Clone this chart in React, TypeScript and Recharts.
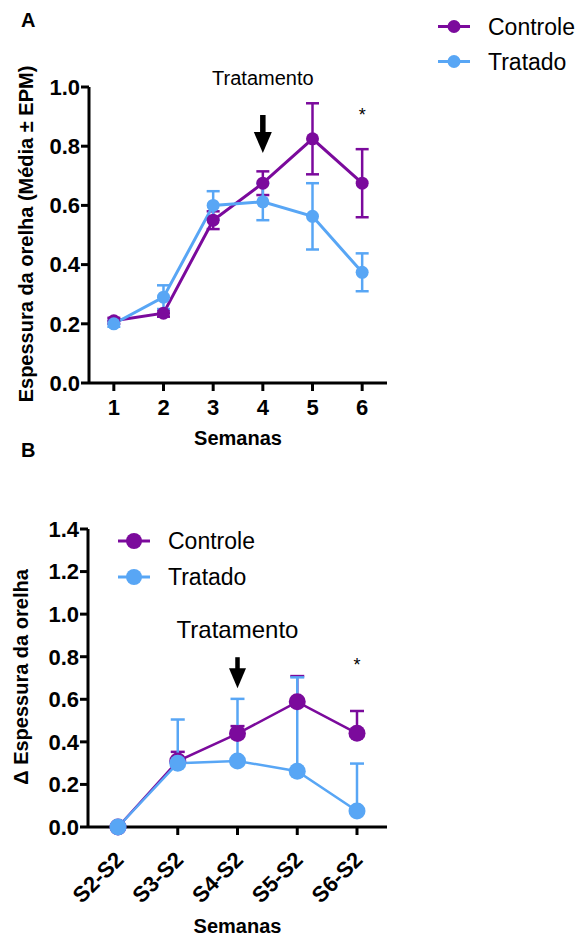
import React from "react";
import {
  LineChart,
  Line,
  XAxis,
  YAxis,
  ErrorBar,
  ReferenceDot,
  Legend,
} from "recharts";

const FONT = "'Liberation Sans', Arial, sans-serif";
const PURPLE = "#7B0A9C";
const BLUE = "#58A6F5";

// Painel A
const semanas = [1, 2, 3, 4, 5, 6];
const controleA = [0.21, 0.236, 0.55, 0.675, 0.825, 0.675];
const controleAErr = [0.01, 0.012, 0.03, 0.04, 0.12, 0.115];
const tratadoA = [0.2, 0.29, 0.6, 0.612, 0.563, 0.374];
const tratadoAErr = [0.01, 0.04, 0.048, 0.062, 0.112, 0.064];
const yTicksA = [0, 0.2, 0.4, 0.6, 0.8, 1.0];

// Painel B
const diferencas = ["S2-S2", "S3-S2", "S4-S2", "S5-S2", "S6-S2"];
const controleB = [0, 0.31, 0.439, 0.588, 0.44];
const controleBErr = [0, 0.043, 0.035, 0.121, 0.105];
const tratadoB = [0, 0.3, 0.31, 0.262, 0.075];
const tratadoBErr = [0, 0.205, 0.292, 0.441, 0.223];
const yTicksB = [0, 0.2, 0.4, 0.6, 0.8, 1.0, 1.2, 1.4];

const dataA = semanas.map((s, i) => ({
  semana: s,
  controle: controleA[i],
  controleErr: controleAErr[i],
  tratado: tratadoA[i],
  tratadoErr: tratadoAErr[i],
}));

const dataB = diferencas.map((d, i) => ({
  label: d,
  controle: controleB[i],
  controleErr: [0, controleBErr[i]],
  tratado: tratadoB[i],
  tratadoErr: [0, tratadoBErr[i]],
}));

const fmt = (v: number) => v.toFixed(1);

const tickStyle = { fill: "#000", fontSize: 22, fontWeight: 700, fontFamily: FONT };
const titleStyle = { fontSize: 20, fontWeight: 700, fontFamily: FONT, fill: "#000" };

function makeArrow(len: number, shaftW: number, headW: number, headH: number) {
  // cy = ponta da seta
  return (props: any) => {
    const { cx, cy } = props;
    return (
      <g>
        <rect x={cx - shaftW / 2} y={cy - len} width={shaftW} height={len - headH + 2} fill="#000" />
        <path
          d={`M${cx - headW / 2},${cy - headH} L${cx + headW / 2},${cy - headH} L${cx},${cy} Z`}
          fill="#000"
        />
      </g>
    );
  };
}

function textShape(text: string, size: number) {
  return (props: any) => (
    <text x={props.cx} y={props.cy} textAnchor="middle" fontSize={size} fontFamily={FONT} fill="#000">
      {text}
    </text>
  );
}

function LegendContent({ size, gap, dotR }: { size: number; gap: number; dotR: number }) {
  const items = [
    { name: "Controle", color: PURPLE },
    { name: "Tratado", color: BLUE },
  ];
  return (
    <svg width={170} height={gap * 2}>
      {items.map((it, i) => {
        const y = gap / 2 + i * gap;
        return (
          <g key={it.name}>
            <line x1={0} x2={32} y1={y} y2={y} stroke={it.color} strokeWidth={3} />
            <circle cx={16} cy={y} r={dotR} fill={it.color} />
            <text x={50} y={y + size * 0.36} fontSize={size} fontFamily={FONT} fill="#000">
              {it.name}
            </text>
          </g>
        );
      })}
    </svg>
  );
}

function XTickB(props: any) {
  const { x, y, payload } = props;
  const ax = x + 7;
  const ay = y + 24;
  return (
    <text
      x={ax}
      y={ay}
      transform={`rotate(-45 ${ax} ${ay})`}
      textAnchor="end"
      fontSize={22}
      fontWeight={700}
      fontFamily={FONT}
      fill="#000"
    >
      {payload.value}
    </text>
  );
}

export default function App() {
  return (
    <div
      style={{
        position: "absolute",
        left: 0,
        top: 0,
        width: 583,
        height: 936,
        background: "#fff",
        fontFamily: FONT,
      }}
    >
      <div style={{ position: "absolute", left: 21, top: 10, fontSize: 20, fontWeight: 700, lineHeight: "20px" }}>A</div>
      <div style={{ position: "absolute", left: 21, top: 440, fontSize: 20, fontWeight: 700, lineHeight: "20px" }}>B</div>

      <div style={{ position: "absolute", left: 0, top: 0 }}>
        <LineChart
          width={583}
          height={450}
          data={dataA}
          margin={{ top: 87, right: 196, bottom: 0, left: 39 }}
        >
          <XAxis
            dataKey="semana"
            type="number"
            domain={[0.5, 6.5]}
            ticks={semanas}
            height={67}
            stroke="#000"
            strokeWidth={3}
            tickSize={8}
            tickMargin={8}
            tick={tickStyle}
            label={{ value: "Semanas", position: "insideBottom", offset: 5, style: titleStyle }}
          />
          <YAxis
            domain={[0, 1]}
            ticks={yTicksA}
            tickFormatter={fmt}
            width={50}
            stroke="#000"
            strokeWidth={3}
            tickSize={8}
            tickMargin={1}
            tick={tickStyle}
          />
          <Legend
            layout="horizontal"
            align="center"
            verticalAlign="middle"
            wrapperStyle={{ position: "absolute", left: 438, top: 9, width: 170 }}
            content={() => <LegendContent size={23} gap={35} dotR={6.5} />}
          />
          <Line
            dataKey="controle"
            name="Controle"
            stroke={PURPLE}
            strokeWidth={3}
            dot={{ r: 6.5, fill: PURPLE, stroke: PURPLE, strokeWidth: 0 }}
            isAnimationActive={false}
          >
            <ErrorBar dataKey="controleErr" direction="y" width={6.5} stroke={PURPLE} strokeWidth={2.5} isAnimationActive={false} />
          </Line>
          <Line
            dataKey="tratado"
            name="Tratado"
            stroke={BLUE}
            strokeWidth={3}
            dot={{ r: 6.5, fill: BLUE, stroke: BLUE, strokeWidth: 0 }}
            isAnimationActive={false}
          >
            <ErrorBar dataKey="tratadoErr" direction="y" width={6.5} stroke={BLUE} strokeWidth={2.5} isAnimationActive={false} />
          </Line>
          <ReferenceDot x={4} y={0.777} ifOverflow="visible" shape={makeArrow(38, 5.5, 18, 21)} />
          <ReferenceDot x={4} y={1.007} ifOverflow="visible" shape={textShape("Tratamento", 20)} />
          <ReferenceDot x={6} y={0.885} ifOverflow="visible" shape={textShape("*", 18)} />
        </LineChart>
      </div>

      <div
        style={{
          position: "absolute",
          left: 26,
          top: 234,
          transform: "translate(-50%, -50%) rotate(-90deg)",
          whiteSpace: "nowrap",
          fontSize: 20,
          fontWeight: 700,
        }}
      >
        Espessura da orelha (Média ± EPM)
      </div>

      <div style={{ position: "absolute", left: 0, top: 450 }}>
        <LineChart
          width={583}
          height={486}
          data={dataB}
          margin={{ top: 79, right: 196, bottom: 0, left: 38 }}
        >
          <XAxis
            dataKey="label"
            type="category"
            height={109}
            padding={{ left: 30, right: 30 }}
            stroke="#000"
            strokeWidth={3}
            tickSize={8}
            tick={<XTickB />}
            interval={0}
            label={{ value: "Semanas", position: "insideBottom", offset: 3, style: titleStyle }}
          />
          <YAxis
            domain={[0, 1.4]}
            ticks={yTicksB}
            tickFormatter={fmt}
            width={50}
            stroke="#000"
            strokeWidth={3}
            tickSize={8}
            tickMargin={1}
            tick={tickStyle}
          />
          <Legend
            layout="horizontal"
            align="center"
            verticalAlign="middle"
            wrapperStyle={{ position: "absolute", left: 118, top: 73, width: 170 }}
            content={() => <LegendContent size={23} gap={36} dotR={8} />}
          />
          <Line
            dataKey="controle"
            name="Controle"
            stroke={PURPLE}
            strokeWidth={2.5}
            dot={{ r: 8.5, fill: PURPLE, stroke: PURPLE, strokeWidth: 0 }}
            isAnimationActive={false}
          >
            <ErrorBar dataKey="controleErr" direction="y" width={7} stroke={PURPLE} strokeWidth={2.5} isAnimationActive={false} />
          </Line>
          <Line
            dataKey="tratado"
            name="Tratado"
            stroke={BLUE}
            strokeWidth={2.5}
            dot={{ r: 8.5, fill: BLUE, stroke: BLUE, strokeWidth: 0 }}
            isAnimationActive={false}
          >
            <ErrorBar dataKey="tratadoErr" direction="y" width={7} stroke={BLUE} strokeWidth={2.5} isAnimationActive={false} />
          </Line>
          <ReferenceDot x="S4-S2" y={0.652} ifOverflow="visible" shape={makeArrow(31, 4.5, 17, 20)} />
          <ReferenceDot x="S4-S2" y={0.89} ifOverflow="visible" shape={textShape("Tratamento", 24)} />
          <ReferenceDot x="S6-S2" y={0.732} ifOverflow="visible" shape={textShape("*", 18)} />
        </LineChart>
      </div>

      <div
        style={{
          position: "absolute",
          left: 21,
          top: 677,
          transform: "translate(-50%, -50%) rotate(-90deg)",
          whiteSpace: "nowrap",
          fontSize: 20,
          fontWeight: 700,
        }}
      >
        Δ Espessura da orelha
      </div>
    </div>
  );
}
